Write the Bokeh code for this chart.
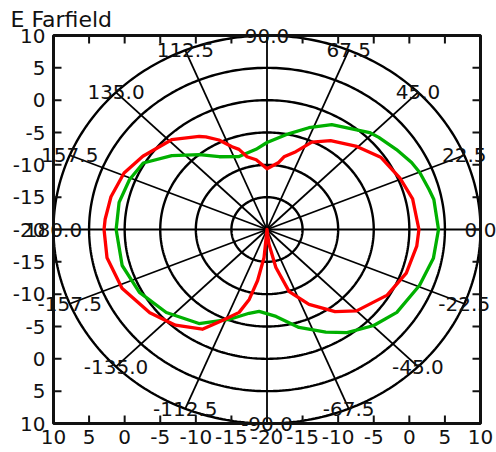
import numpy as np
from bokeh.plotting import figure
from bokeh.models import ColumnDataSource
from bokeh.core.properties import value
from bokeh.embed import file_html
from bokeh.resources import INLINE

# Radial scale: the centre of the diagram is -20 dB, outer ring +10 dB
r_min_db = -20
ring_db = [-15, -10, -5, 0, 5, 10]

# Spoke angles (degrees) and their labels
spoke_deg = [0, 22.5, 45, 67.5, 90, 112.5, 135, 157.5, 180,
             -157.5, -135, -112.5, -90, -67.5, -45, -22.5]
spoke_labels = ["0.0", "22.5", "45.0", "67.5", "90.0", "112.5", "135.0", "157.5", "180.0",
                "-157.5", "-135.0", "-112.5", "-90.0", "-67.5", "-45.0", "-22.5"]

# Cartesian frame ticks (radial offset) and the dB text printed at them
axis_ticks = [-30, -25, -20, -15, -10, -5, 0, 5, 10, 15, 20, 25, 30]
axis_tick_labels = ["10", "5", "0", "-5", "-10", "-15", "-20",
                    "-15", "-10", "-5", "0", "5", "10"]

# Farfield cut, red trace (angle in degrees, gain in dB)
red_theta = [-180, -169, -156, -142, -131, -120.5, -113.4, -107, -103, -99.5, -95.5, -90,
             -83, -78, -72, -63, -53, -45, -31, -19, -7, 0, 13, 23, 35, 45.5, 57,
             65, 71.4, 78, 81, 90, 98, 104, 107.6, 111, 116, 121, 123.5, 134, 147,
             156.5, 167, 176, 180]
red_db = [2.9, 2.9, 2.3, 0.9, -0.4, -2.1, -4.8, -6.6, -8.9, -12.0, -15.6, -20,
          -17.7, -14.0, -9.9, -7.0, -4.1, -2.2, -0.3, 0.7, 1.2, 1.35, 1.0, 0.3, -0.5, -2.0, -3.6,
          -5.1, -7.3, -8.5, -9.5, -10.6, -9.1, -8.4, -7.0, -6.3, -4.6, -3.3, -2.75, -0.7, 0.8,
          1.9, 2.5, 2.8, 2.9]

# Farfield cut, green trace
green_theta = [-180, -164.7, -151.5, -137.8, -123.3, -111, -101, -95, -84.6, -73.5, -62.5,
               -54.8, -44.7, -35.1, -22, -10.8, 0, 11.2, 15.2, 22.3, 27, 34.2, 42.2, 46.1,
               60.7, 69.5, 79.7, 90, 97.1, 109.2, 120.8, 129.4, 139.5, 149.4, 158.2, 168.6, 180]
green_db = [1.2, 1.1, 0.4, -0.9, -2.6, -5.1, -6.8, -7.3, -6.5, -4.2, -2.1,
            -0.5, 1.1, 2.3, 3.1, 3.8, 4.1, 3.9, 3.6, 3.2, 2.8, 2.0, 1.2, 0.8,
            -1.4, -3.2, -5.1, -6.55, -7.5, -8.05, -6.9, -5.0, -2.4, 0.2, 0.8, 1.2, 1.2]


def to_xy(theta_deg, gain_db):
    t = np.radians(np.asarray(theta_deg, dtype=float))
    r = np.clip(np.asarray(gain_db, dtype=float) - r_min_db, 0, None)
    return r * np.cos(t), r * np.sin(t)


R = ring_db[-1] - r_min_db          # outer ring radius in data units
W, H = 496, 452
box_left, box_right, box_top, box_bottom = 53, 480, 35, 423   # box edges in pixels
sx = (box_right - box_left) / (2 * R)   # px per data unit
sy = (box_bottom - box_top) / (2 * R)
cx = (box_left + box_right) / 2
cy = (box_top + box_bottom) / 2

font = value("DejaVu Sans")
fsize = "20px"
ink = "#111111"

# the plotting frame spans the whole canvas so that labels may spill over the box
p = figure(width=W, height=H,
           x_range=(-cx / sx, (W - cx) / sx), y_range=(-(H - cy) / sy, cy / sy),
           output_backend="svg", toolbar_location=None,
           min_border=0, min_border_left=0, min_border_right=0,
           min_border_top=0, min_border_bottom=0)
p.axis.visible = False
p.xgrid.visible = False
p.ygrid.visible = False
p.outline_line_color = None
p.background_fill_color = "white"
p.border_fill_color = "white"

# polar rings
phi = np.linspace(0, 2 * np.pi, 361)
for db in ring_db:
    r = db - r_min_db
    p.line(r * np.cos(phi), r * np.sin(phi), line_color="black", line_width=2.4)

# spokes
for a in spoke_deg:
    ex, ey = to_xy([a], [ring_db[-1]])
    p.line([0, ex[0]], [0, ey[0]], line_color="black", line_width=1.8)

# traces
gx, gy = to_xy(green_theta, green_db)
p.line(gx, gy, line_color="#00b000", line_width=3.3, line_join="round")
rx, ry = to_xy(red_theta, red_db)
p.line(rx, ry, line_color="#ff0000", line_width=3.3, line_join="round")

# box with inward ticks on all four sides (8 px long)
p.quad(left=-R, right=R, bottom=-R, top=R, fill_color=None, line_color=ink, line_width=3)
ticks = np.asarray(axis_ticks, dtype=float)
tl_x, tl_y = 8 / sx, 8 / sy
ones = np.ones_like(ticks)
p.segment(x0=ticks, y0=-R * ones, x1=ticks, y1=(-R + tl_y) * ones, line_color=ink, line_width=2)
p.segment(x0=ticks, y0=R * ones, x1=ticks, y1=(R - tl_y) * ones, line_color=ink, line_width=2)
p.segment(x0=-R * ones, y0=ticks, x1=(-R + tl_x) * ones, y1=ticks, line_color=ink, line_width=2)
p.segment(x0=R * ones, y0=ticks, x1=(R - tl_x) * ones, y1=ticks, line_color=ink, line_width=2)

# dB tick labels along the bottom and left edges
bottom_src = ColumnDataSource(dict(x=ticks, y=-R * ones, text=axis_tick_labels))
p.text(x="x", y="y", text="text", source=bottom_src, text_align="center", text_baseline="top",
       y_offset=6, text_font=font, text_font_size=fsize, text_color=ink)
left_src = ColumnDataSource(dict(x=-R * ones, y=ticks, text=axis_tick_labels))
p.text(x="x", y="y", text="text", source=left_src, text_align="right", text_baseline="middle",
       x_offset=-8, text_font=font, text_font_size=fsize, text_color=ink)

# angle labels on the outer ring
lx, ly = to_xy(spoke_deg, [ring_db[-1]] * len(spoke_deg))
src = ColumnDataSource(dict(x=lx, y=ly, text=spoke_labels))
p.text(x="x", y="y", text="text", source=src, text_align="center", text_baseline="middle",
       text_font=font, text_font_size=fsize, text_color=ink)

# title above the top-left corner of the box
p.text(x=[-R], y=[R], text=["E Farfield"], x_offset=-43, y_offset=-4,
       text_align="left", text_baseline="bottom",
       text_font=font, text_font_size="22px", text_color=ink)

open("out.html", "w").write(file_html(p, INLINE))
